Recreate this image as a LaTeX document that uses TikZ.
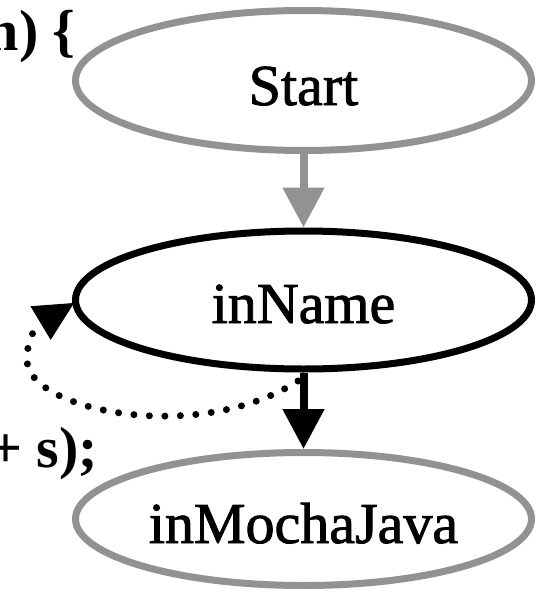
\documentclass[tikz,border=0pt]{standalone}
\usepackage{fontspec}
\setmainfont{Liberation Serif}
\newfontfamily\lblfont{Liberation Serif}[FakeBold=1.5]
\usetikzlibrary{arrows.meta,shapes.geometric}
\definecolor{edgegray}{RGB}{146,146,146}
\tikzset{
  state/.style={ellipse, draw, line width=7pt, minimum width=456pt, inner sep=0pt,
    font=\lblfont\fontsize{58}{60}\selectfont, text depth=0pt},
  graystate/.style={state, draw=edgegray},
  blackstate/.style={state, draw=black},
  tipbig/.style={-{Triangle[length=40pt,width=40pt]}},
  grayedge/.style={tipbig, draw=edgegray, fill=edgegray, line width=8pt},
  blackedge/.style={tipbig, draw=black, line width=8pt},
  dotline/.style={draw=black, line width=7pt, line cap=round, dash pattern=on 0pt off 15.5pt},
  dottip/.style={-{Triangle[length=39pt,width=39pt]}, draw=black, line width=1pt, solid},
  codetxt/.style={font=\fontsize{58}{60}\selectfont\bfseries, inner sep=0pt, anchor=base east}
}
\begin{document}
\begin{tikzpicture}[x=1pt,y=-1pt]
\useasboundingbox (0,0) rectangle (544,592);
\clip (0,0) rectangle (544,592);
\fill[white] (0,0) rectangle (544,592);

\node[graystate, minimum height=140pt, text height=49pt] (start) at (303.5,80.5) {Start};
\node[blackstate, minimum height=138pt, text height=46pt] (inName) at (303.5,300) {inName};
\node[graystate, minimum height=133pt, text height=48pt] (mocha) at (303.5,519) {inMochaJava};

\node[codetxt] (code1) at (76,50) {n) \{};
\node[codetxt] (code2) at (98,467) {+ s);};

\draw[grayedge] (start) -- (inName);
\draw[blackedge] (inName) -- (mocha);

\coordinate (loopstart) at (298,381);
\coordinate (loopleft) at (27,360);
\coordinate (looptip) at (74,303);
\coordinate (looptop) at (41.5,322.5);
\draw[dotline] (loopstart) .. controls (197,446) and (27,410) .. (loopleft)
  .. controls (27,343) and (32,330) .. (looptop);
\draw[dottip] (looptop) -- (looptip);
\end{tikzpicture}
\end{document}
